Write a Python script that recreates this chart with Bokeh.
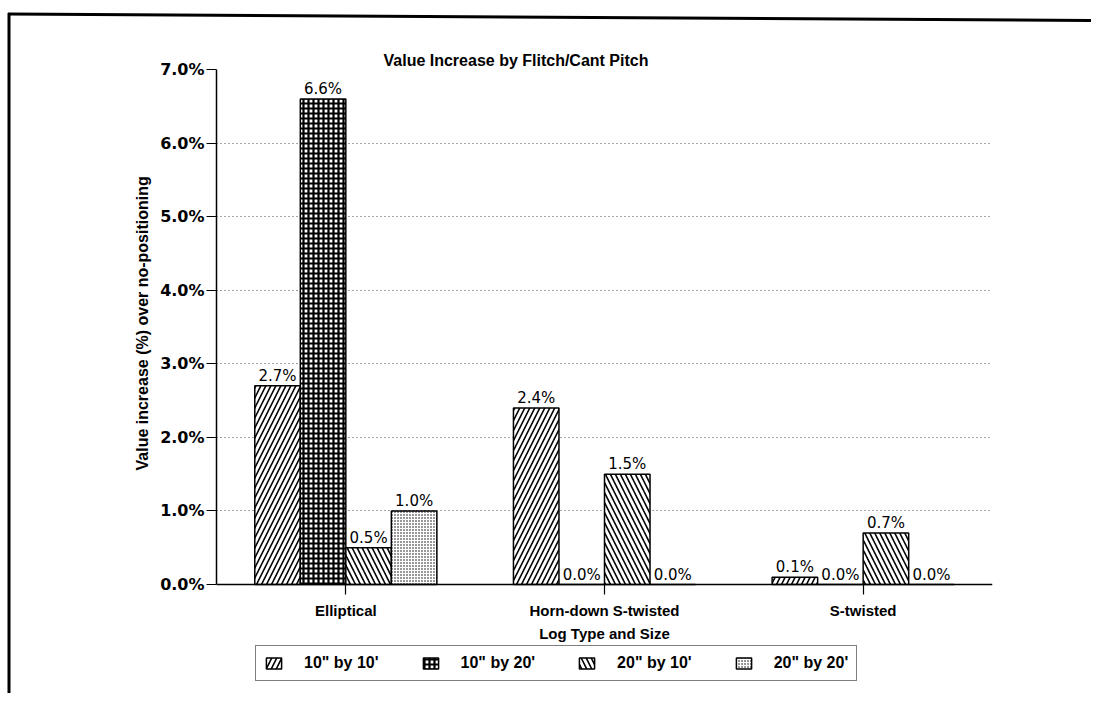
from bokeh.plotting import figure
from bokeh.models import (ColumnDataSource, FactorRange, Range1d, FixedTicker,
                          PrintfTickFormatter, Legend, LegendItem, Title)
from bokeh.transform import dodge
from bokeh.embed import file_html
from bokeh.resources import INLINE
from bokeh.core.properties import value

# ---- data ----
log_types = ["Elliptical", "Horn-down S-twisted", "S-twisted"]
series_names = ['10" by 10\'', '10" by 20\'', '20" by 10\'', '20" by 20\'']
v_10x10 = [2.7, 2.4, 0.1]
v_10x20 = [6.6, 0.0, 0.0]
v_20x10 = [0.5, 1.5, 0.7]
v_20x20 = [1.0, 0.0, 0.0]
y_ticks = [0, 1, 2, 3, 4, 5, 6, 7]
y_top = 7

series_values = [v_10x10, v_10x20, v_20x10, v_20x20]
hatches = [
    dict(hatch_pattern="/", hatch_scale=10, hatch_weight=1.6),
    dict(hatch_pattern="+", hatch_scale=5, hatch_weight=2.2),
    dict(hatch_pattern="\\", hatch_scale=10, hatch_weight=1.6),
    dict(hatch_pattern=".", hatch_scale=3, hatch_weight=1.0),
]

FONT = "Liberation Sans"
FONT2 = "DejaVu Sans"

# layout (pixels): value axis spans 515 px; the frame continues 109 px below
# zero so that the category labels and the legend live inside it
AXIS_PX, BELOW_PX = 515, 109
y_bottom = -y_top * BELOW_PX / AXIS_PX
FIG_W, FIG_H = 216 + 776 + 99, 69 + AXIS_PX + BELOW_PX

p = figure(frame_width=776, frame_height=AXIS_PX + BELOW_PX,
           x_range=FactorRange(*log_types), y_range=Range1d(y_bottom, y_top),
           output_backend="svg", toolbar_location=None,
           min_border_left=216, min_border_right=99, min_border_top=69,
           min_border_bottom=0)
p.outline_line_color = None
p.background_fill_color = "white"
p.border_fill_alpha = 0
# outer page frame (scanned sheet border, slightly skewed), as a CSS background
svg_border = (
    "<svg xmlns='http://www.w3.org/2000/svg' width='%d' height='%d'>"
    "<path d='M8 14 L%d 20.5' stroke='black' stroke-width='3' fill='none'/>"
    "<path d='M9 13 L9 %d' stroke='black' stroke-width='3' fill='none'/>"
    "</svg>" % (FIG_W, FIG_H, FIG_W + 20, FIG_H + 20)
)
p.styles = {
    "background": 'url("data:image/svg+xml;utf8,%s") no-repeat, white' % svg_border
}

# title
p.title.text = "Value Increase by Flitch/Cant Pitch"
p.title.text_font = FONT
p.title.text_font_size = "16px"
p.title.text_font_style = "bold"
p.title.text_color = "black"
p.title.align = "left"
p.title.offset = 167
p.title.standoff = 2

# axes
p.xaxis.axis_label = "Log Type and Size"
for ax in (p.xaxis[0], p.yaxis[0]):
    ax.axis_label_text_font = FONT
    ax.axis_label_text_font_size = "15px"
    ax.axis_label_text_font_style = "bold"
    ax.axis_label_text_color = "black"
    ax.major_label_text_font = FONT
    ax.major_label_text_font_size = "15px"
    ax.major_label_text_font_style = "bold"
    ax.major_label_text_color = "black"
    ax.axis_line_color = "black"
    ax.axis_line_width = 1.5
    ax.major_tick_line_color = "black"
    ax.major_tick_line_width = 1.2
    ax.major_tick_in = 0
    ax.major_tick_out = 10
    ax.minor_tick_line_color = None
p.xaxis.fixed_location = 0
p.yaxis.bounds = (0, y_top)
p.yaxis.major_label_text_font = FONT2
p.yaxis.major_label_text_font_size = "16px"
p.xaxis.axis_label_standoff = 3
p.xaxis.major_label_standoff = 7
p.yaxis.major_label_standoff = 2
p.yaxis.ticker = FixedTicker(ticks=y_ticks)
p.yaxis.formatter = PrintfTickFormatter(format="%.1f%%")

# y-axis title (placed as a side title so it can sit beside the 0-7% span)
ytitle = Title(text="Value increase (%) over no-positioning", align="left", offset=223,
               text_font=FONT, text_font_size="16px", text_font_style="bold",
               text_color="black", standoff=14)
p.add_layout(ytitle, "left")

p.xgrid.grid_line_color = None
p.ygrid.ticker = FixedTicker(ticks=y_ticks)
p.ygrid.grid_line_color = "black"
p.ygrid.grid_line_alpha = 0.7
p.ygrid.grid_line_dash = "1 3"
p.ygrid.grid_line_width = 1

bar_w = 0.176
offsets = [-1.5 * bar_w, -0.5 * bar_w, 0.5 * bar_w, 1.5 * bar_w]
items = []
for name, vals, hat, off in zip(series_names, series_values, hatches, offsets):
    src = ColumnDataSource(dict(cat=log_types, val=vals,
                                lab=["%.1f%%" % v for v in vals]))
    r = p.vbar(x=dodge("cat", off, range=p.x_range), top="val", width=bar_w, source=src,
               fill_color="white", line_color="black", line_width=1.5,
               hatch_color="black", **hat)
    p.text(x=dodge("cat", off, range=p.x_range), y="val", text="lab", source=src,
           text_font=value(FONT2), text_font_size="15px", text_align="center",
           text_baseline="bottom", y_offset=-1, text_color="black")
    items.append(LegendItem(label=name, renderers=[r]))

legend = Legend(items=items, orientation="horizontal", location=(39, 12),
                padding=8, spacing=42, label_standoff=21, glyph_width=19, glyph_height=14,
                label_text_font=FONT, label_text_font_size="16px", label_text_font_style="bold",
                label_text_color="black",
                border_line_color="black", border_line_width=1.5, margin=0,
                background_fill_alpha=1)
p.add_layout(legend, "center")

open("out.html", "w").write(file_html(p, INLINE))
